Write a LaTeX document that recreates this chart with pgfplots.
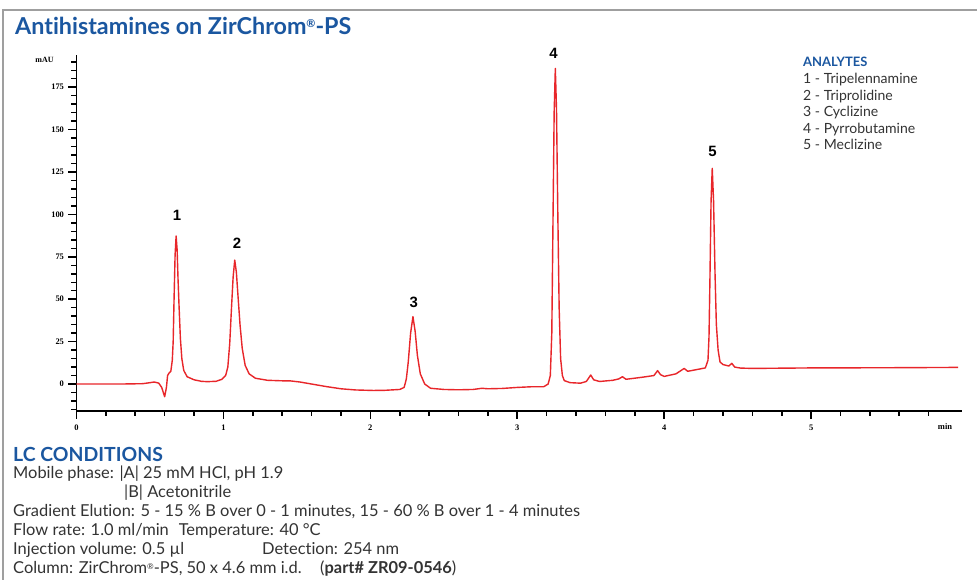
\documentclass[border=0pt]{standalone}
\usepackage{fontspec}
\setmainfont{Lato}[Ligatures={NoCommon}]
\newfontfamily\tickfont{Liberation Serif}
\newfontfamily\pkfont{Liberation Sans}
\usepackage{pgfplots}
\pgfplotsset{compat=1.18}
\definecolor{ttl}{HTML}{1B57A0}
\definecolor{trace}{HTML}{E8262A}
\definecolor{txt}{HTML}{333333}
\newcommand{\reg}[1]{\raisebox{0.6ex}{\fontsize{#1}{#1}\selectfont\textregistered}}
\begin{document}
\begin{tikzpicture}
\begin{scope}[x=1bp,y=1bp,shift={(-76.5bp,-169bp)}]
\fill[white] (0,0) rectangle (977,580);
\draw[gray!75, line width=1.5bp] (3,0) -- (3,570) -- (977,570);
\end{scope}
\begin{axis}[
  scale only axis, width=885.5bp, height=356bp,
  xmin=0, xmax=6.027, ymin=-15.9, ymax=194,
  axis lines=left,
  axis line style={-, line width=1.4bp, black},
  xtick={0,1,2,3,4,5},
  minor xtick={0.2,0.4,0.6,0.8,1.2,1.4,1.6,1.8,2.2,2.4,2.6,2.8,3.2,3.4,3.6,3.8,4.2,4.4,4.6,4.8,5.2,5.4,5.6,5.8},
  ytick={0,25,50,75,100,125,150,175}, minor ytick={-15,-10,...,190},
  xtick pos=bottom, ytick pos=left,
  xtick align=outside, ytick align=outside,
  major tick length=8bp, minor tick length=5bp,
  every tick/.style={black, line width=1.6bp},
  every minor tick/.style={black, line width=1.5bp},
  xtick style={draw=black, line width=1.6bp},
  /pgf/number format/assume math mode=true,
  ticklabel style={font=\tickfont\bfseries\fontsize{8.5}{9}\selectfont},
  yticklabel style={xshift=-1bp},
  xticklabel style={yshift=-2bp},
  clip=false,
]
\addplot[trace, line width=1.4bp, line join=round] coordinates {
(0,0) (0.3,0) (0.45,0.2) (0.5,0.8) (0.53,1.2) (0.56,0.5) (0.58,-2) (0.6,-7.5) (0.612,-2) (0.62,5) (0.63,6.5) (0.642,7.5) (0.652,14) (0.658,25) (0.664,50) (0.671,76) (0.678,87.3) (0.685,79) (0.691,62) (0.698,46) (0.707,27) (0.717,15) (0.73,8) (0.753,4.3) (0.80,2.5) (0.85,1.6) (0.889,1.4) (0.95,1.6) (0.99,2.8) (1.015,5) (1.03,10) (1.043,24) (1.055,45) (1.066,63) (1.077,73.1) (1.088,66) (1.100,51) (1.113,35) (1.128,21) (1.148,11) (1.175,6) (1.218,3.4) (1.30,2.2) (1.40,1.9) (1.45,1.9) (1.52,1.2) (1.60,0) (1.70,-1.5) (1.80,-2.8) (1.90,-3.5) (2.02,-3.8) (2.10,-3.7) (2.20,-3.2) (2.23,-2) (2.245,3) (2.258,13) (2.274,30) (2.290,39.7) (2.305,31) (2.320,17) (2.340,6) (2.370,0) (2.41,-2.5) (2.50,-3.2) (2.60,-3.4) (2.70,-3.2) (2.76,-2.5) (2.80,-2.8) (2.90,-2.6) (3.00,-2.0) (3.10,-1.6) (3.18,-1.6) (3.21,0) (3.225,5) (3.235,30) (3.243,95) (3.251,160) (3.259,186.1) (3.267,162) (3.276,100) (3.285,45) (3.295,15) (3.307,5) (3.32,2) (3.36,0.8) (3.43,0.5) (3.47,1.5) (3.50,5.3) (3.52,2.5) (3.56,1.5) (3.65,2.2) (3.69,3) (3.716,4.3) (3.74,2.8) (3.85,4) (3.93,5) (3.955,7.9) (3.975,5.5) (4.00,4.5) (4.08,6) (4.115,8) (4.136,9.2) (4.16,7.5) (4.22,8.5) (4.28,9.5) (4.298,14) (4.305,28) (4.311,60) (4.319,108) (4.327,127.2) (4.336,108) (4.346,65) (4.355,35) (4.367,20) (4.38,13) (4.40,11.5) (4.44,10.6) (4.46,12.2) (4.48,10) (4.52,9.4) (4.60,9.2) (5.0,9.5) (5.5,9.6) (6.0,9.8)
};
\node[font=\pkfont\bfseries\fontsize{15}{16}\selectfont] at (axis cs:0.685,99.6) {1};
\node[font=\pkfont\bfseries\fontsize{15}{16}\selectfont] at (axis cs:1.093,83.0) {2};
\node[font=\pkfont\bfseries\fontsize{15}{16}\selectfont] at (axis cs:2.295,47.9) {3};
\node[font=\pkfont\bfseries\fontsize{15}{16}\selectfont] at (axis cs:3.247,195) {4};
\node[font=\pkfont\bfseries\fontsize{15}{16}\selectfont] at (axis cs:4.329,137.4) {5};
\end{axis}
\begin{scope}[x=1bp,y=1bp,shift={(-76.5bp,-169bp)}]
\node[anchor=base west, text=ttl, font=\fontsize{23.4}{26}\selectfont\bfseries, inner sep=0] at (15,545) {Antihistamines on ZirChrom\reg{11}-PS};
\node[font=\tickfont\bfseries\fontsize{8}{9}\selectfont] at (44.5,520) {mAU};
\node[font=\tickfont\bfseries\fontsize{8.5}{9}\selectfont] at (945,153) {min};
% analytes
\node[anchor=base west, inner sep=0, text=ttl, font=\fontsize{13}{14}\selectfont\bfseries] at (803,513.3) {ANALYTES};
\begin{scope}[every node/.style={anchor=base west, inner sep=0, text=txt, font=\fontsize{14.1}{16}\selectfont}]
\node at (803,496) {1 - Tripelennamine};
\node at (803,479.5) {2 - Triprolidine};
\node at (803,463) {3 - Cyclizine};
\node at (803,446.5) {4 - Pyrrobutamine};
\node at (803,430) {5 - Meclizine};
\end{scope}
% conditions
\node[anchor=base west, inner sep=0, text=ttl, font=\fontsize{19.5}{22}\selectfont\bfseries] at (13,118) {LC CONDITIONS};
\begin{scope}[every node/.style={anchor=base west, inner sep=0, text=txt, font=\fontsize{16.5}{18}\selectfont}]
\node at (13,101) {Mobile phase: |A| 25 mM HCl, pH 1.9};
\node at (124,82) {|B| Acetonitrile};
\node at (13,63) {Gradient Elution: 5 - 15 \% B over 0 - 1 minutes, 15 - 60 \% B over 1 - 4 minutes};
\node at (13,44) {Flow rate: 1.0 ml/min\hspace{0.6em}Temperature: 40 °C};
\node at (13,25) {Injection volume: 0.5 µl};
\node at (262,25) {Detection: 254 nm};
\node at (13,6) {Column: ZirChrom\reg{8}-PS, 50 x 4.6 mm i.d.};
\node at (320,6) {(\textbf{part\# ZR09-0546})};
\end{scope}
\pgfresetboundingbox
\useasboundingbox (0,0) rectangle (977,580);
\end{scope}
\end{tikzpicture}
\end{document}
